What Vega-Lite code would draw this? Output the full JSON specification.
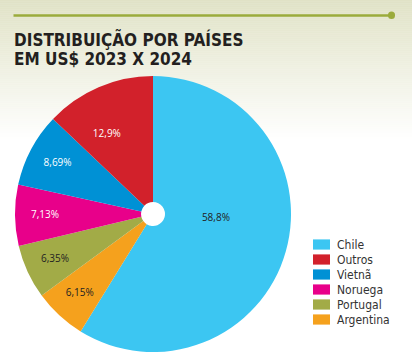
{
  "$schema": "https://vega.github.io/schema/vega-lite/v6.json",
  "width": 276,
  "height": 276,
  "autosize": {"type": "none"},
  "padding": {"left": 15, "top": 76, "right": 121, "bottom": 8},
  "background": "#ffffff",
  "title": {
    "text": ["DISTRIBUIÇÃO POR PAÍSES", "EM US$ 2023 X 2024"],
    "anchor": "start",
    "frame": "group",
    "font": "DejaVu Sans Condensed",
    "fontWeight": "bold",
    "fontSize": 17,
    "lineHeight": 19,
    "color": "#231f20",
    "offset": 8,
    "dx": -1,
    "dy": 78
  },
  "data": {
    "values": [
      {"pais": "Chile", "valor": 58.8, "rotulo": "58,8%", "ordem": 1},
      {"pais": "Argentina", "valor": 6.15, "rotulo": "6,15%", "ordem": 2},
      {"pais": "Portugal", "valor": 6.35, "rotulo": "6,35%", "ordem": 3},
      {"pais": "Noruega", "valor": 7.13, "rotulo": "7,13%", "ordem": 4},
      {"pais": "Vietnã", "valor": 8.69, "rotulo": "8,69%", "ordem": 5},
      {"pais": "Outros", "valor": 12.9, "rotulo": "12,9%", "ordem": 6}
    ]
  },
  "layer": [
    {
      "mark": {"type": "point", "opacity": 0},
      "encoding": {
        "x": {
          "field": "valor",
          "type": "quantitative",
          "scale": {"domain": [0, 100], "range": [-2, 376]},
          "axis": {
            "orient": "top",
            "offset": 61,
            "zindex": 1,
            "title": null,
            "labels": false,
            "grid": false,
            "values": [100],
            "domainColor": "#9bab3c",
            "domainWidth": 2.5,
            "ticks": true,
            "tickColor": "#9bab3c",
            "tickWidth": 7,
            "tickSize": 0.5,
            "tickCap": "round"
          }
        },
        "y": {
          "field": "valor",
          "type": "quantitative",
          "scale": {"domain": [0, 140], "range": [-76, 64], "nice": false, "zero": false},
          "axis": {
            "orient": "left",
            "offset": -397,
            "zindex": 0,
            "title": null,
            "labels": false,
            "grid": false,
            "domain": false,
            "ticks": true,
            "tickSize": 416,
            "tickWidth": 2.6,
            "tickColor": {"expr": "'rgb(' + round(224 + 31*min(1, datum.value/140)) + ',' + round(226 + 29*min(1, datum.value/140)) + ',' + round(198 + 57*min(1, datum.value/140)) + ')'"},
            "values": [0,2,4,6,8,10,12,14,16,18,20,22,24,26,28,30,32,34,36,38,40,42,44,46,48,50,52,54,56,58,60,62,64,66,68,70,72,74,76,78,80,82,84,86,88,90,92,94,96,98,100,102,104,106,108,110,112,114,116,118,120,122,124,126,128,130,132,134,136,138,140]
          }
        }
      }
    },
    {
      "mark": {"type": "arc", "innerRadius": 12},
      "encoding": {
        "theta": {"field": "valor", "type": "quantitative", "stack": true},
        "order": {"field": "ordem", "type": "quantitative"},
        "color": {
          "field": "pais",
          "type": "nominal",
          "scale": {
            "domain": ["Chile", "Outros", "Vietnã", "Noruega", "Portugal", "Argentina"],
            "range": ["#3cc6f2", "#d2212b", "#0091d5", "#e8008a", "#a2ab47", "#f5a11d"]
          },
          "legend": {
            "orient": "none",
            "legendX": 298,
            "legendY": 160,
            "title": null,
            "symbolType": "M-1,-0.6H1V0.6H-1Z",
            "symbolSize": 289,
            "symbolStrokeWidth": 0,
            "symbolOpacity": 1,
            "labelFont": "DejaVu Sans Condensed",
            "labelFontSize": 12,
            "labelColor": "#333333",
            "labelOffset": 7,
            "rowPadding": 0
          }
        }
      }
    },
    {
      "mark": {
        "type": "text",
        "font": "Open Sans",
        "fontSize": 10,
        "radius": {"expr": "datum.pais === 'Chile' ? 63 : (datum.pais === 'Outros' ? 92 : 108)"},
        "thetaOffset": {"expr": "datum.pais === 'Chile' ? -0.22 : (datum.pais === 'Outros' ? -0.12 : 0)"}
      },
      "encoding": {
        "theta": {"field": "valor", "type": "quantitative", "stack": true},
        "order": {"field": "ordem", "type": "quantitative"},
        "text": {"field": "rotulo", "type": "nominal"},
        "color": {
          "condition": {"test": "indexof(['Outros','Vietnã','Noruega'], datum.pais) >= 0", "value": "#ffffff"},
          "value": "#222222"
        }
      }
    }
  ],
  "config": {"view": {"stroke": null}}
}
